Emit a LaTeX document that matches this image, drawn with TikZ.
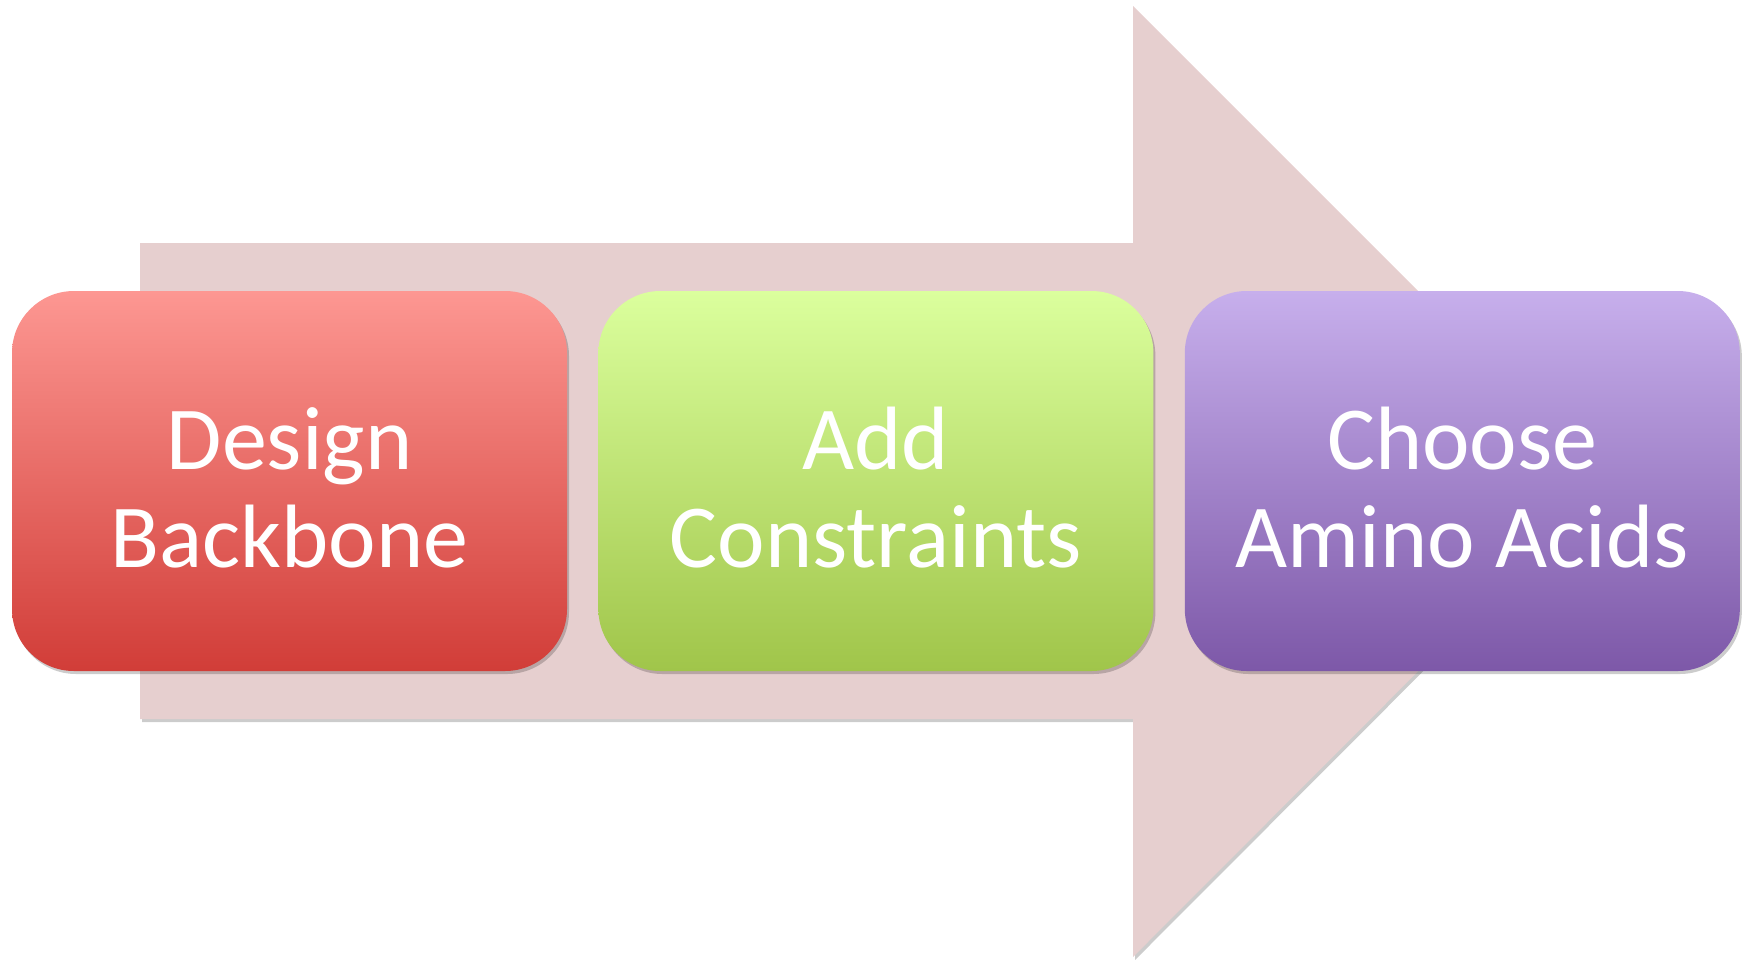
\documentclass[tikz,border=0pt]{standalone}
\usepackage{fontspec}
\setmainfont{Carlito}
\usepackage{xcolor}
\usetikzlibrary{positioning,shadows}
\definecolor{flowpink}{HTML}{E6CFCF}
\definecolor{redtop}{HTML}{FD9792}
\definecolor{redbot}{HTML}{D13D38}
\definecolor{greentop}{HTML}{DBFF9D}
\definecolor{greenbot}{HTML}{A0C54A}
\definecolor{purpletop}{HTML}{C7AFEC}
\definecolor{purplebot}{HTML}{7D58A8}

\begin{document}
\begin{tikzpicture}[
  x=1pt,y=-1pt,
  node distance=31pt,
  softshadow/.style={drop shadow={shadow xshift=2pt,shadow yshift=-3pt,fill=black,opacity=0.2}},
  stage/.style={rectangle,rounded corners=62pt,minimum width=555pt,minimum height=380pt,
    inner sep=0pt,align=center,text=white,font=\fontsize{90}{98}\selectfont,
    text height=182pt,text depth=10pt,softshadow}
]
\useasboundingbox (0,0) rectangle (1750,959);
% big background arrow
\fill[flowpink,softshadow] (140,243) -- (1133,243) -- (1133,6) -- (1608,481)
  -- (1133,957) -- (1133,719) -- (140,719) -- cycle;
% the three stages
\node[stage,top color=redtop,bottom color=redbot] (backbone) at (289.5,481) {Design\\Backbone};
\node[stage,top color=greentop,bottom color=greenbot,right=of backbone] (constraints) {Add\\Constraints};
\node[stage,top color=purpletop,bottom color=purplebot,right=of constraints] (aminos) {Choose\\Amino Acids};
\end{tikzpicture}
\end{document}
